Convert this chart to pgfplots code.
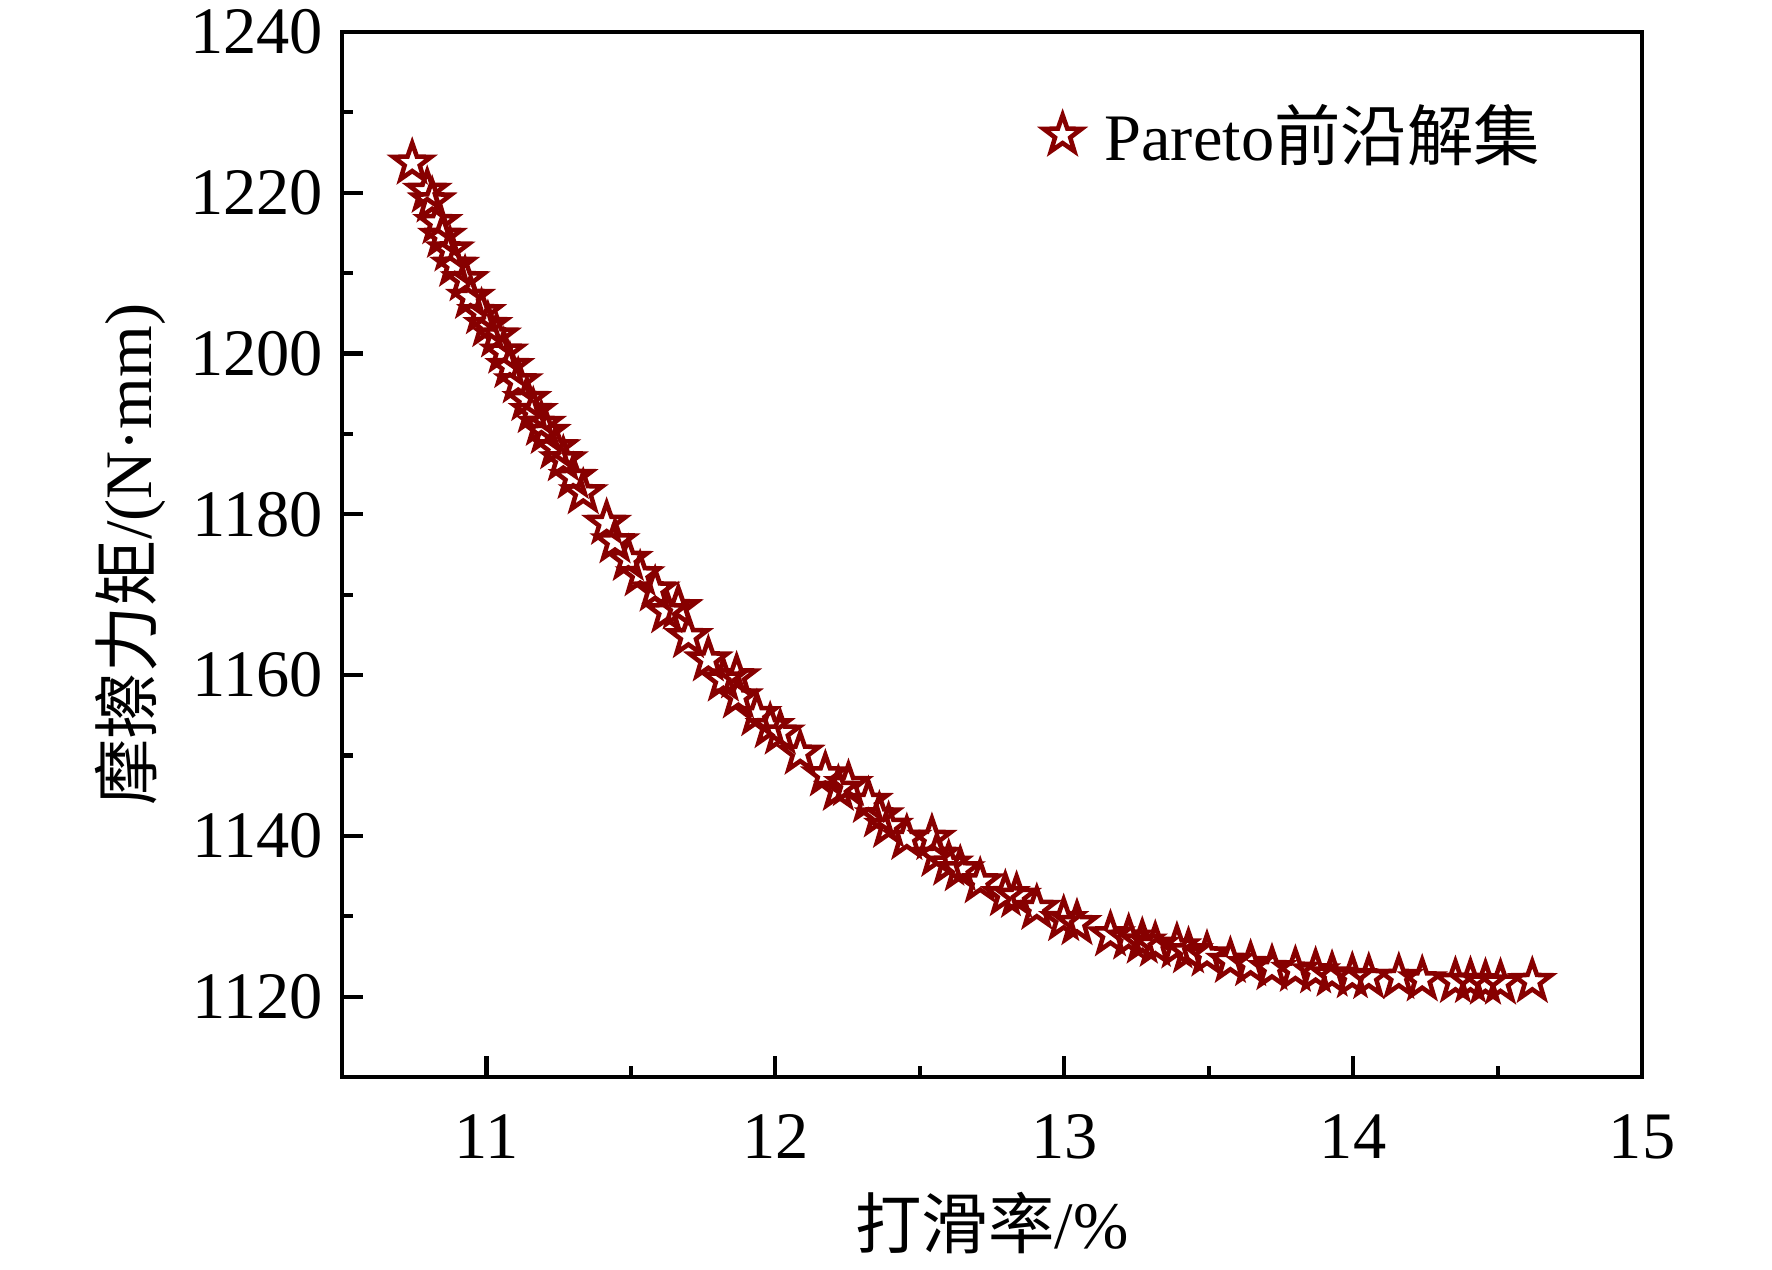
\documentclass[border=0pt]{standalone}
\usepackage{fontspec}
\setmainfont{Liberation Serif}
\newfontfamily\cjk{Noto Sans CJK SC}
\usepackage{pgfplots}
\pgfplotsset{compat=1.18}
\definecolor{darkred}{RGB}{135,0,0}
\pgfdeclareplotmark{ostar}{%
  \pgfpathmoveto{\pgfpointpolar{90}{\pgfplotmarksize}}%
  \pgfpathlineto{\pgfpointpolar{126}{0.40\pgfplotmarksize}}%
  \pgfpathlineto{\pgfpointpolar{162}{\pgfplotmarksize}}%
  \pgfpathlineto{\pgfpointpolar{198}{0.40\pgfplotmarksize}}%
  \pgfpathlineto{\pgfpointpolar{234}{\pgfplotmarksize}}%
  \pgfpathlineto{\pgfpointpolar{270}{0.40\pgfplotmarksize}}%
  \pgfpathlineto{\pgfpointpolar{306}{\pgfplotmarksize}}%
  \pgfpathlineto{\pgfpointpolar{342}{0.40\pgfplotmarksize}}%
  \pgfpathlineto{\pgfpointpolar{18}{\pgfplotmarksize}}%
  \pgfpathlineto{\pgfpointpolar{54}{0.40\pgfplotmarksize}}%
  \pgfpathclose
  \pgfusepathqstroke
}
\begin{document}
\begin{tikzpicture}
\begin{axis}[
  scale only axis,
  width=11.005cm, height=8.846cm,
  xmin=10.5, xmax=15, ymin=1110, ymax=1240,
  xtick={11,12,13,14,15}, ytick={1120,1140,1160,1180,1200,1220,1240},
  minor xtick={10.5,11.5,12.5,13.5,14.5},
  minor ytick={1130,1150,1170,1190,1210,1230},
  tick align=inside, tick pos=left,
  major tick length=5pt, minor tick length=2.7pt,
  axis line style={line width=1pt},
  every tick/.style={line width=1pt, black},
  /pgf/number format/assume math mode=true,
  /pgf/number format/1000 sep={},
  tick label style={font=\fontsize{16}{19}\selectfont},
  xticklabel style={yshift=-5.5pt},
  yticklabel style={xshift=-1pt},
  every axis y label/.style={at={(axis description cs:-0.163,0.5)}, rotate=90, anchor=center, font=\fontsize{16}{19}\selectfont},
  every axis x label/.style={at={(axis description cs:0.5,-0.14)}, anchor=center, font=\fontsize{16}{19}\selectfont},
  xlabel={{\cjk 打滑率}/\%},
  ylabel={{\cjk 摩擦力矩}/(N·mm)},
  legend style={draw=none, fill=none, at={(rel axis cs:0.5295,0.9014)}, anchor=west, font=\fontsize{16}{19}\selectfont},
  legend image code/.code={\draw[#1] plot coordinates {(0.175cm,0cm)}; \path (0.44cm,0cm);},
]
\addplot[only marks, mark=ostar, mark size=4.8pt, line width=1.1pt, color=darkred] coordinates {
(10.743,1223.7) (10.795,1220.2) (10.812,1219.0) (10.832,1216.3) (10.848,1214.6)
(10.874,1212.9) (10.890,1211.0) (10.926,1209.2) (10.945,1207.0) (10.983,1205.1)
(11.005,1203.5) (11.035,1202.2) (11.060,1200.2) (11.081,1198.4) (11.110,1196.5)
(11.140,1194.3) (11.162,1192.8) (11.190,1191.2) (11.207,1190.2) (11.240,1188.3)
(11.266,1186.8) (11.300,1184.6) (11.335,1182.7) (11.416,1178.9) (11.445,1176.6)
(11.491,1174.4) (11.532,1172.5) (11.584,1170.6) (11.624,1167.9) (11.664,1168.4)
(11.699,1164.8) (11.768,1161.9) (11.820,1159.4) (11.866,1159.8) (11.872,1157.3)
(11.936,1155.1) (11.982,1153.6) (12.017,1152.8) (12.086,1150.3) (12.173,1147.6)
(12.218,1145.8) (12.253,1146.4) (12.322,1144.3) (12.360,1142.5) (12.392,1141.2)
(12.455,1139.7) (12.542,1139.7) (12.559,1137.6) (12.600,1136.5) (12.640,1135.8)
(12.709,1134.3) (12.796,1132.7) (12.835,1132.5) (12.905,1131.0) (12.998,1129.6)
(13.044,1129.1) (13.160,1127.7) (13.223,1127.3) (13.270,1126.8) (13.315,1126.4)
(13.390,1126.2) (13.430,1125.6) (13.494,1125.2) (13.575,1124.4) (13.645,1124.0)
(13.719,1123.5) (13.800,1123.3) (13.870,1123.1) (13.927,1122.7) (13.997,1122.5)
(14.054,1122.4) (14.158,1122.4) (14.239,1122.1) (14.354,1121.9) (14.406,1121.9)
(14.458,1121.7) (14.510,1121.7) (14.620,1121.9)
};
\addlegendentry{Pareto{\cjk 前沿解集}}
\coordinate (SW) at (rel axis cs:0,0);
\coordinate (NE) at (rel axis cs:1,1);
\end{axis}
\pgfresetboundingbox
\path[use as bounding box] ([xshift=-2.895cm,yshift=-1.625cm]SW) rectangle ([xshift=1.100cm,yshift=0.271cm]NE);
\end{tikzpicture}
\end{document}
